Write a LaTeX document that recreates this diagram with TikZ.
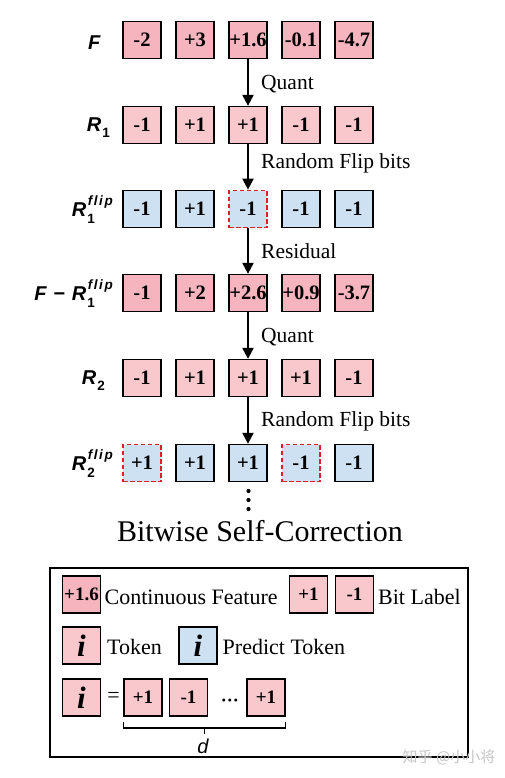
\documentclass[tikz,border=0pt]{standalone}
\usepackage{fontspec}
\setmainfont{Liberation Serif}
\setsansfont{Liberation Sans}
\newfontfamily\cjkfont{Noto Sans CJK SC}
\usetikzlibrary{arrows.meta}
\definecolor{featpink}{RGB}{245,180,190}
\definecolor{bitpink}{RGB}{248,200,204}
\definecolor{predblue}{RGB}{206,225,243}
\definecolor{flipred}{RGB}{222,30,40}
\newcommand{\Rsub}[1]{\textit{R}\kern1pt\raisebox{-0.3em}{\fontsize{13.5}{13.5}\selectfont\upshape #1}}
\newcommand{\Rflip}[1]{\textit{R}\rlap{\kern1pt\raisebox{-0.35em}{\fontsize{13.5}{13.5}\selectfont\upshape #1}}\kern1.5pt\raisebox{0.55em}{\fontsize{13.5}{13.5}\selectfont\itshape f\kern1.6pt l\kern1.6pt i\kern1.6pt p}}
\tikzset{
  cell/.style={draw=black, line width=1.3pt, minimum width=38pt, minimum height=37pt, inner sep=0pt,
    font=\fontsize{20.5}{21}\selectfont\bfseries},
  feat/.style={cell, fill=featpink},
  bit/.style={cell, fill=bitpink},
  pred/.style={cell, fill=predblue},
  fpred/.style={pred, draw=flipred, line width=1.7pt, dash pattern=on 4.5pt off 2.5pt},
  lcell/.style={cell, font=\fontsize{19}{19}\selectfont\bfseries},
  tok/.style={cell, font=\fontsize{31}{31}\selectfont\bfseries\itshape},
  rowlab/.style={anchor=east, inner sep=0pt, font=\sffamily\bfseries\fontsize{20}{20}\selectfont},
  steplab/.style={anchor=west, inner sep=0pt, font=\fontsize{21.5}{22}\selectfont},
  legtext/.style={anchor=west, inner sep=0pt, font=\fontsize{22}{23}\selectfont},
  flow/.style={line width=2.2pt, -{Triangle[length=11pt,width=11pt]}}
}
\begin{document}
\begin{tikzpicture}[x=1pt,y=-1pt]
\useasboundingbox (0,0) rectangle (504,778);
% rows of cells
\foreach \v [count=\i] in {-2,+3,+1.6,-0.1,-4.7}
  \node[feat] (a\i) at ({89+53*\i},40) {\v};
\foreach \v [count=\i] in {-1,+1,+1,-1,-1}
  \node[bit] (b\i) at ({89+53*\i},125) {\v};
\foreach \v/\s [count=\i] in {-1/pred,+1/pred,-1/fpred,-1/pred,-1/pred}
  \node[\s] (c\i) at ({89+53*\i},209) {\v};
\foreach \v [count=\i] in {-1,+2,+2.6,+0.9,-3.7}
  \node[feat] (d\i) at ({89+53*\i},293) {\v};
\foreach \v [count=\i] in {-1,+1,+1,+1,-1}
  \node[bit] (e\i) at ({89+53*\i},378) {\v};
\foreach \v/\s [count=\i] in {+1/fpred,+1/pred,+1/pred,-1/fpred,-1/pred}
  \node[\s] (f\i) at ({89+53*\i},463) {\v};
% row labels
\node[rowlab] (la) at (101,43) {\textit{F}};
\node[rowlab] (lb) at (110,128) {\Rsub{1}};
\node[rowlab] (lc) at (113,210) {\Rflip{1}};
\node[rowlab] (ld) at (113,294) {\textit{F} \kern1pt−\kern1pt\ \Rflip{1}};
\node[rowlab] (le) at (105,381) {\Rsub{2}};
\node[rowlab] (lf) at (113,464) {\Rflip{2}};
% arrows and step labels
\draw[flow] (a3.south) -- (b3.north);
\draw[flow] (b3.south) -- (c3.north);
\draw[flow] (c3.south) -- (d3.north);
\draw[flow] (d3.south) -- (e3.north);
\draw[flow] (e3.south) -- (f3.north);
\node[steplab] (s1) at (261,84) {Quant};
\node[steplab] (s2) at (261,163) {Random Flip bits};
\node[steplab] (s3) at (261,251) {Residual};
\node[steplab] (s4) at (261,337) {Quant};
\node[steplab] (s5) at (261,421) {Random Flip bits};
% vertical dots
\foreach \yy in {491,500,509} \fill (248.5,\yy) circle (2.1pt);
% title
\node[inner sep=0pt, font=\fontsize{30}{31}\selectfont] (title) at (260,531) {Bitwise Self-Correction};
% legend
\draw[line width=1.6pt] (50,568) rectangle (468,757);
\node[lcell, fill=featpink] (g1) at (81.5,594.5) {+1.6};
\node[legtext] (g1t) at (104.5,597) {Continuous Feature};
\node[lcell, fill=bitpink] (g2) at (308.5,594.5) {+1};
\node[lcell, fill=bitpink] (g3) at (354.5,594.5) {-1};
\node[legtext] (g3t) at (378,597) {Bit Label};
\node[tok, fill=bitpink] (h1) at (81.5,645.5) {i};
\node[legtext] (h1t) at (107,647) {Token};
\node[tok, fill=predblue] (h2) at (198,645.5) {i};
\node[legtext] (h2t) at (222.5,647) {Predict Token};
\node[tok, fill=bitpink] (k0) at (81.5,697.5) {i};
\node[inner sep=0pt, font=\fontsize{22}{22}\selectfont] (keq) at (113.5,697) {=};
\node[lcell, fill=bitpink] (k1) at (143,697.5) {+1};
\node[lcell, fill=bitpink] (k2) at (188.5,697.5) {-1};
\node[inner sep=0pt, font=\fontsize{18}{18}\selectfont\bfseries] (kdots) at (230,703) {···};
\node[lcell, fill=bitpink] (k3) at (266,697.5) {+1};
\coordinate (br) at (204.5,728);
\draw[line width=1.3pt] ([yshift=6pt]k1.south west |- br) -- (k1.south west |- br) -- (k3.south east |- br) -- ([yshift=6pt]k3.south east |- br);
\draw[line width=1.3pt] (br) -- ++(0,6);
\node[inner sep=0pt, font=\sffamily\itshape\fontsize{20}{20}\selectfont] (dlab) at (203,746) {d};
% watermark
\node[inner sep=0pt, text=gray!45, font=\cjkfont\fontsize{15}{15}\selectfont] (wm) at (449,757) {知乎 @小小将};
\end{tikzpicture}
\end{document}
